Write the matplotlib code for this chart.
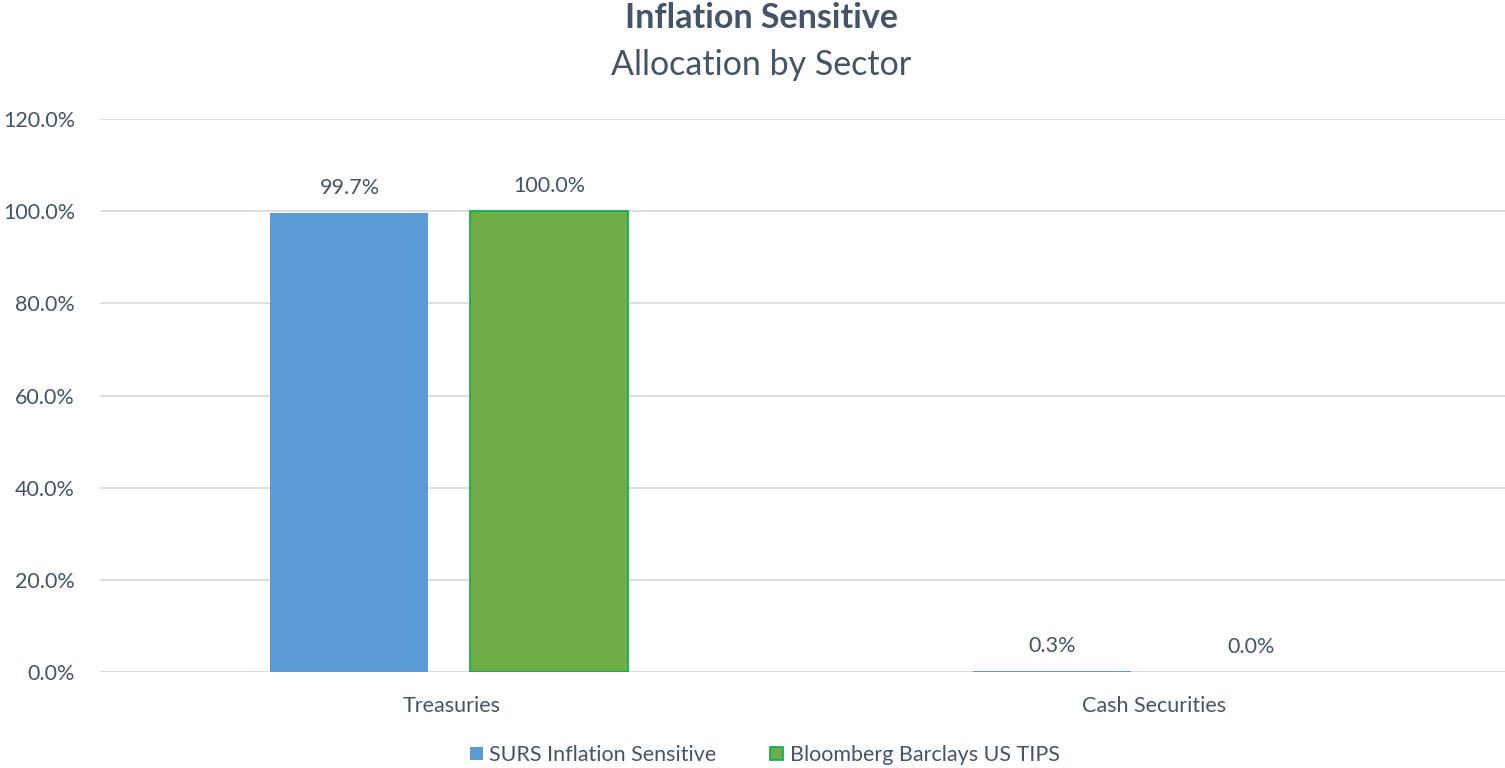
import matplotlib.pyplot as plt
import numpy as np

plt.rcParams['font.family'] = ['Lato', 'DejaVu Sans']

categories = ["Treasuries", "Cash Securities"]
surs = [99.7, 0.3]
tips = [100.0, 0.0]
series_names = ["SURS Inflation Sensitive", "Bloomberg Barclays US TIPS"]
yticks = [0, 20, 40, 60, 80, 100, 120]

text_col = "#44546A"
blue = "#5B9BD5"
green = "#70AD47"

fig = plt.figure(figsize=(15.05, 7.68), dpi=100)
ax = fig.add_axes([0.0665, 0.125, 0.9335, 0.72])

x = np.arange(len(categories))
w = 0.225
b1 = ax.bar(x - 0.145, surs, w, color=blue, label=series_names[0], zorder=3)
# outline only where the bar has height, so the 0% bar stays invisible
b2 = ax.bar(x + 0.139, tips, w, color=green, edgecolor="#00B050",
            linewidth=[1.2 if v > 0 else 0 for v in tips],
            label=series_names[1], zorder=3)

for bars, vals in ((b1, surs), (b2, tips)):
    for r, v in zip(bars, vals):
        ax.text(r.get_x() + r.get_width() / 2, v + 3.2, f"{v:.1f}%", ha="center",
                va="bottom", fontsize=15.5, color=text_col)

ax.set_xlim(-0.5, 1.5)
ax.set_ylim(0, 120)
ax.set_yticks(yticks)
ax.set_yticklabels([f"{t:.1f}%" for t in yticks], fontsize=15.5, color=text_col)
ax.set_xticks(x)
ax.set_xticklabels(categories, fontsize=15.5, color=text_col)
ax.tick_params(length=0, axis="y", pad=18)
ax.tick_params(length=0, axis="x", pad=17)
ax.grid(axis="y", color="#D9D9D9", linewidth=1.2, zorder=0)
for s in ax.spines.values():
    s.set_visible(False)
ax.axhline(0, color="#D9D9D9", linewidth=1.2, zorder=2)

fig.text(0.506, 0.976, "Inflation Sensitive", ha="center", va="center",
         fontsize=24.5, fontweight="bold", color=text_col)
fig.text(0.506, 0.916, "Allocation by Sector", ha="center", va="center",
         fontsize=24.5, color=text_col)

fig.legend(loc="center", bbox_to_anchor=(0.508, 0.017), ncol=2, frameon=False,
           fontsize=15.5, handlelength=0.6, handleheight=0.6, handletextpad=0.3,
           columnspacing=2.5, labelcolor=text_col)

fig.savefig("out.png", dpi=100)
